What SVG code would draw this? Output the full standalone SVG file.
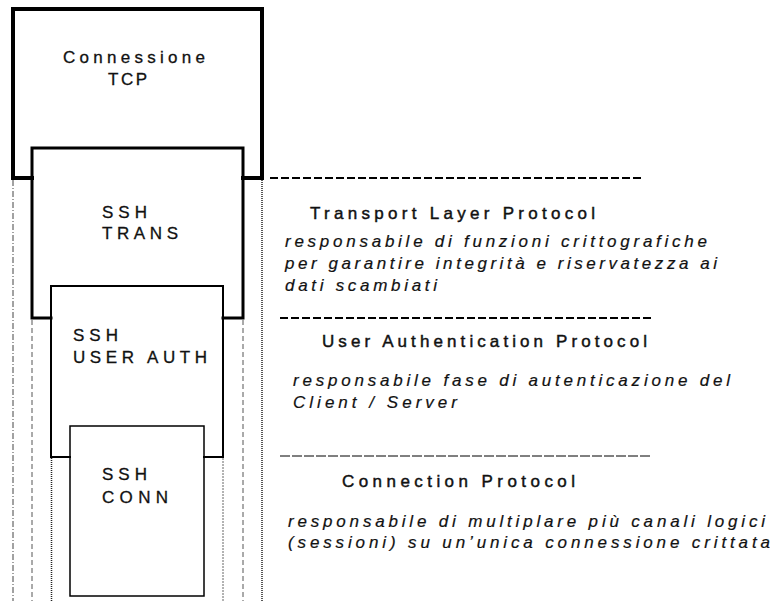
<svg xmlns="http://www.w3.org/2000/svg" width="777" height="601" viewBox="0 0 777 601">
<style>
.bg{fill:#fff}
.box{fill:none;stroke:#000;stroke-linejoin:miter;stroke-linecap:square}
.lbl{font-family:"Liberation Sans",Arial,sans-serif;font-size:17px;fill:#111;stroke:#111;stroke-width:0.3}
.ttl{font-family:"Liberation Sans",Arial,sans-serif;font-size:17px;fill:#111;stroke:#111;stroke-width:0.45}
.it{font-family:"Liberation Sans",Arial,sans-serif;font-size:17px;font-style:italic;fill:#111;stroke:#111;stroke-width:0.2}
.sep{fill:none;stroke:#000}
.vl{fill:none}
</style>
<rect class="bg" x="0" y="0" width="777" height="601"/>
<g id="guides">
<line class="vl" x1="13" y1="180" x2="13" y2="601" stroke="#444" stroke-width="1" stroke-dasharray="6,2,1,2"/>
<line class="vl" x1="32" y1="320" x2="32" y2="601" stroke="#555" stroke-width="1" stroke-dasharray="5,3"/>
<line class="vl" x1="51.5" y1="458" x2="51.5" y2="601" stroke="#222" stroke-width="1.5" stroke-dasharray="1,1"/>
<line class="vl" x1="223" y1="458" x2="223" y2="601" stroke="#666" stroke-width="1" stroke-dasharray="2,1"/>
<line class="vl" x1="243" y1="320" x2="243" y2="601" stroke="#555" stroke-width="1" stroke-dasharray="5,3"/>
<line class="vl" x1="262" y1="180" x2="262" y2="601" stroke="#222" stroke-width="1.5" stroke-dasharray="1,1"/>
</g>
<g id="connectors">
<line class="sep" x1="270" y1="178" x2="643" y2="178" stroke-width="2" stroke-dasharray="8,3"/>
<line class="sep" x1="280" y1="318" x2="652" y2="318" stroke-width="2" stroke-dasharray="8,3"/>
<line class="sep" x1="280" y1="456" x2="652" y2="456" stroke-width="1" stroke-dasharray="10,2"/>
</g>
<g id="tcp">
<path class="box" stroke-width="4" d="M32,178 H13 V9 H262 V178 H243"/>
<text class="lbl" x="63" y="63" textLength="142" lengthAdjust="spacing">Connessione</text>
<text class="lbl" x="108" y="85" textLength="39" lengthAdjust="spacing">TCP</text>
</g>
<g id="trans">
<path class="box" stroke-width="3" d="M51,318 H32 V148 H243 V318 H223"/>
<text class="lbl" x="102" y="218" textLength="45" lengthAdjust="spacing">SSH</text>
<text class="lbl" x="102" y="239" textLength="76" lengthAdjust="spacing">TRANS</text>
</g>
<g id="userauth">
<path class="box" stroke-width="2" d="M70,457 H51 V286 H223 V457 H204"/>
<text class="lbl" x="73" y="341" textLength="45" lengthAdjust="spacing">SSH</text>
<text class="lbl" x="73" y="363" textLength="134" lengthAdjust="spacing">USER AUTH</text>
</g>
<g id="conn">
<rect class="box" stroke-width="1.5" x="70" y="426" width="134" height="170"/>
<text class="lbl" x="102" y="480" textLength="45" lengthAdjust="spacing">SSH</text>
<text class="lbl" x="102" y="503" textLength="66" lengthAdjust="spacing">CONN</text>
</g>
<g id="transport-desc">
<text class="ttl" x="310" y="219" textLength="285" lengthAdjust="spacing">Transport Layer  Protocol</text>
<text class="it" x="285" y="247" textLength="422" lengthAdjust="spacing">responsabile di funzioni crittografiche</text>
<text class="it" x="285" y="269" textLength="432" lengthAdjust="spacing">per garantire integrità e riservatezza ai</text>
<text class="it" x="285" y="291" textLength="152" lengthAdjust="spacing">dati scambiati</text>
</g>
<g id="auth-desc">
<text class="ttl" x="322" y="347" textLength="325" lengthAdjust="spacing">User Authentication Protocol</text>
<text class="it" x="293" y="386" textLength="437" lengthAdjust="spacing">responsabile fase di autenticazione del</text>
<text class="it" x="293" y="408" textLength="164" lengthAdjust="spacing">Client  / Server</text>
</g>
<g id="conn-desc">
<text class="ttl" x="342" y="487" textLength="233" lengthAdjust="spacing">Connection  Protocol</text>
<text class="it" x="288" y="527" textLength="477" lengthAdjust="spacing">responsabile di multiplare più canali logici</text>
<text class="it" x="288" y="548" textLength="482" lengthAdjust="spacing">(sessioni) su un’unica connessione crittata</text>
</g>
</svg>
